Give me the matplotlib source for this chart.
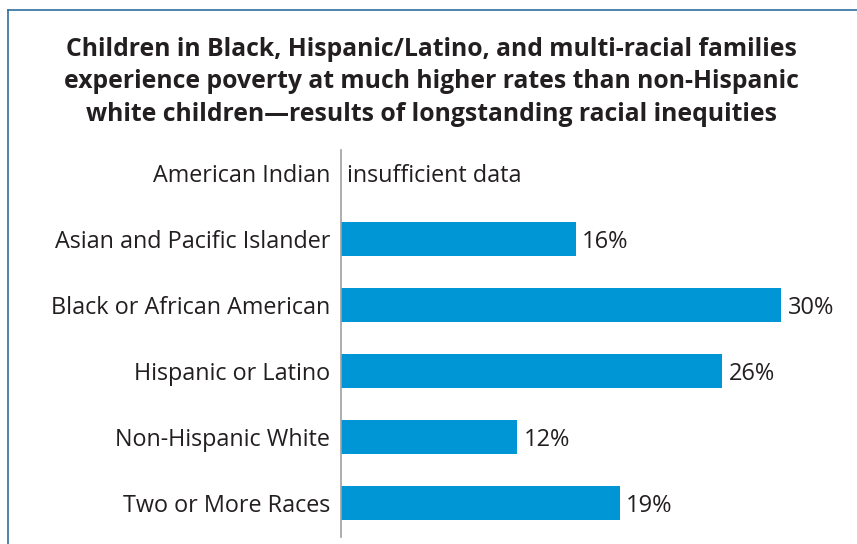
import matplotlib.pyplot as plt
from matplotlib.lines import Line2D

# chart data
categories = ["American Indian", "Asian and Pacific Islander", "Black or African American",
              "Hispanic or Latino", "Non-Hispanic White", "Two or More Races"]
values = [None, 16, 30, 26, 12, 19]
title = ("Children in Black, Hispanic/Latino, and multi-racial families\n"
         "experience poverty at much higher rates than non-Hispanic\n"
         "white children\u2014results of longstanding racial inequities")

BAR_COLOR = "#0096d6"
TEXT_COLOR = "#231f20"
plt.rcParams['font.family'] = ['Open Sans', 'DejaVu Sans']

W, H = 857, 544
fig = plt.figure(figsize=(W / 100, H / 100), dpi=100)

# frame of the box (top and left edges visible)
fig.add_artist(Line2D([8 / W, 1], [1 - 10 / H, 1 - 10 / H], color="#2f6f9f", lw=1.2))
fig.add_artist(Line2D([8 / W, 8 / W], [0, 1 - 10 / H], color="#2f6f9f", lw=1.2))

fig.text(431 / W, 1 - 82 / H, title, ha="center", va="center", fontsize=17.8,
         fontweight="bold", color=TEXT_COLOR, linespacing=1.4)

ax = fig.add_axes([341 / W, 1 - 537 / H, 440 / W, 387 / H])
ypos = list(range(len(categories)))
for y, v in zip(ypos, values):
    if v is None:
        ax.text(0.4, y, "insufficient data", va="center_baseline", ha="left",
                fontsize=16.8, color=TEXT_COLOR)
        continue
    ax.barh(y, v, height=0.52, color=BAR_COLOR)
    ax.text(v + 0.45, y, f"{v}%", va="center_baseline", ha="left", fontsize=17, color=TEXT_COLOR)

ax.set_xlim(0, 30)
ax.set_ylim(5.515, -0.35)
ax.set_yticks(ypos)
ax.set_yticklabels(categories, fontsize=16.8, color=TEXT_COLOR)
ax.tick_params(axis="y", length=0, pad=8)
ax.set_xticks([])
for s in ["top", "right", "bottom"]:
    ax.spines[s].set_visible(False)
ax.spines["left"].set_color("#a0a0a0")
ax.spines["left"].set_linewidth(1.2)
ax.patch.set_alpha(0)

plt.savefig("out.png", dpi=100)
